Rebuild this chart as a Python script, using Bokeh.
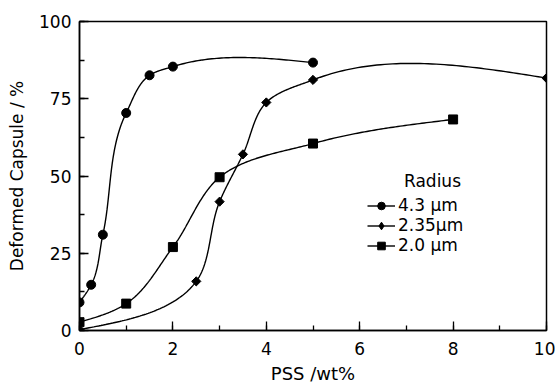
import numpy as np
from bokeh.plotting import figure
from bokeh.models import (Range1d, SingleIntervalTicker, Legend, LegendItem, Label)
from bokeh.embed import file_html
from bokeh.resources import INLINE

# ---- data ----
x_43 = [0, 0.25, 0.5, 1, 1.5, 2, 5]
y_43 = [9.1, 14.8, 31, 70.4, 82.6, 85.4, 86.7]

x_235 = [0, 2.5, 3, 3.5, 4, 5, 10]
y_235 = [0.3, 15.9, 41.7, 57, 73.8, 81.1, 81.7]

x_20 = [0, 1, 2, 3, 5, 8]
y_20 = [2.7, 8.7, 27, 49.6, 60.5, 68.3]

series_labels = ["4.3 \u03bcm", "2.35\u03bcm", "2.0 \u03bcm"]
legend_title = "Radius"
x_label = "PSS /wt%"
y_label = "Deformed Capsule / %"

X_RANGE = (0, 10)
Y_RANGE = (0, 100)

W, H = 555, 386
BL, BR, BT, BB = 79, 9, 21, 55
FW, FH = W - BL - BR, H - BT - BB
SX = FW / (X_RANGE[1] - X_RANGE[0])
SY = FH / (Y_RANGE[1] - Y_RANGE[0])

FONT = "DejaVu Sans"


def smooth_curve(xs, ys, n=60):
    """Chord-length parametrised cubic (Bessel tangents) through the points, in screen space."""
    P = np.column_stack([np.asarray(xs, float) * SX, np.asarray(ys, float) * SY])
    d = np.hypot(*np.diff(P, axis=0).T)
    N = len(P)
    m = np.zeros_like(P)
    for i in range(1, N - 1):
        a = (P[i] - P[i - 1]) / d[i - 1]
        b = (P[i + 1] - P[i]) / d[i]
        m[i] = (a * d[i] + b * d[i - 1]) / (d[i - 1] + d[i])
    c0 = (P[1] - P[0]) / d[0]
    cN = (P[-1] - P[-2]) / d[-1]
    m[0] = 1.5 * c0 - 0.5 * m[1]
    m[-1] = 1.5 * cN - 0.5 * m[-2]
    t = np.linspace(0, 1, n)[:, None]
    parts = []
    for i in range(N - 1):
        B0, B3 = P[i], P[i + 1]
        B1 = B0 + m[i] * d[i] / 3
        B2 = B3 - m[i + 1] * d[i] / 3
        seg = (1 - t) ** 3 * B0 + 3 * t * (1 - t) ** 2 * B1 + 3 * t ** 2 * (1 - t) * B2 + t ** 3 * B3
        parts.append(seg if i == 0 else seg[1:])
    C = np.vstack(parts)
    return C[:, 0] / SX, C[:, 1] / SY


p = figure(width=W, height=H, output_backend="svg", toolbar_location=None,
           x_range=Range1d(*X_RANGE), y_range=Range1d(*Y_RANGE),
           min_border_left=BL, min_border_right=BR, min_border_top=BT, min_border_bottom=BB)

p.background_fill_color = "white"
p.border_fill_color = "white"
p.outline_line_color = "black"
p.outline_line_width = 1.5
p.xgrid.visible = False
p.ygrid.visible = False

p.xaxis.ticker = SingleIntervalTicker(interval=2, num_minor_ticks=2)
p.yaxis.ticker = SingleIntervalTicker(interval=25, num_minor_ticks=2)
for ax in (p.xaxis[0], p.yaxis[0]):
    ax.axis_line_color = "black"
    ax.axis_line_width = 1.5
    ax.major_tick_line_color = "black"
    ax.minor_tick_line_color = "black"
    ax.major_tick_line_width = 1.3
    ax.minor_tick_line_width = 1.3
    ax.major_tick_in = 9
    ax.major_tick_out = 0
    ax.minor_tick_in = 5
    ax.minor_tick_out = 0
    ax.major_label_text_font = FONT
    ax.major_label_text_font_size = "17px"
    ax.major_label_text_color = "black"
    ax.axis_label_text_font = FONT
    ax.axis_label_text_font_style = "normal"
    ax.axis_label_text_color = "black"

p.xaxis.major_label_standoff = 11
p.yaxis.major_label_standoff = 8
p.xaxis.axis_label = x_label
p.yaxis.axis_label = y_label
p.xaxis.axis_label_text_font_size = "18px"
p.yaxis.axis_label_text_font_size = "17px"
p.xaxis.axis_label_standoff = 5
p.yaxis.axis_label_standoff = 9

# markers: (marker on the plot, size, angle, marker shown in the legend)
specs = [
    ("circle", 9, 0.0, "circle"),
    ("square", 6.5, np.pi / 4, "diamond"),
    ("square", 9, 0.0, "square"),
]
data = [(x_43, y_43), (x_235, y_235), (x_20, y_20)]

items = []
for (xs, ys), (marker, size, ang, leg_marker), lab in zip(data, specs, series_labels):
    cx, cy = smooth_curve(xs, ys)
    lr = p.line(cx, cy, line_color="black", line_width=1.4)
    p.scatter(xs, ys, marker=marker, size=size, angle=ang,
              fill_color="black", line_color="black")
    # legend-only marker (zero size on the plot; legend draws it at its own size)
    lg = p.scatter(xs, ys, marker=leg_marker, size=0,
                   fill_color="black", line_color="black")
    items.append(LegendItem(label=lab, renderers=[lr, lg]))

legend = Legend(items=items, location=(288, 75), padding=0, margin=0, spacing=0,
                glyph_width=28, glyph_height=19, label_height=19, label_standoff=3,
                label_text_font=FONT, label_text_font_size="17px",
                label_text_color="black",
                border_line_alpha=0, background_fill_alpha=0)
p.add_layout(legend)

p.add_layout(Label(x=(432 - BL) / SX, y=(BT + FH - 181) / SY, text=legend_title,
                   text_font=FONT, text_font_size="17px", text_align="center",
                   text_baseline="middle", text_color="black"))

open("out.html", "w").write(file_html(p, INLINE))
